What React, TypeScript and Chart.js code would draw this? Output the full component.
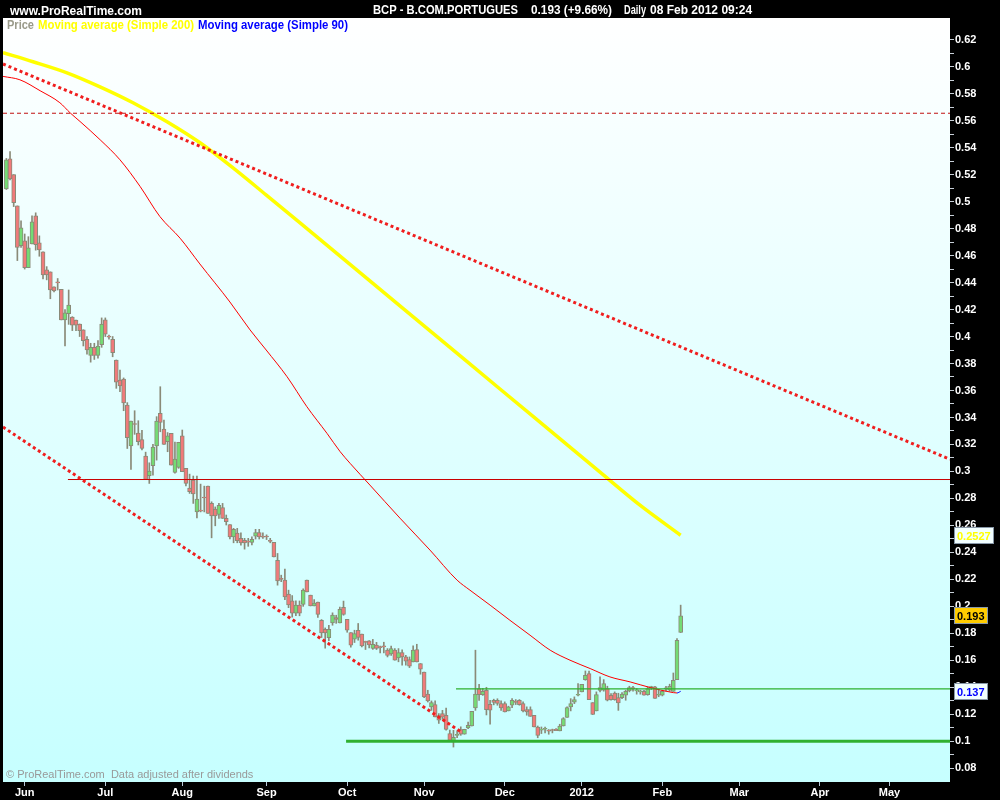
import React, { useEffect, useRef } from 'react';
import { Chart, registerables } from 'chart.js';

Chart.register(...registerables);

const FONT = '"Liberation Sans", Arial, sans-serif';

// ---- candles (trading-day index starts at -5 = 25 May 2011; 0 = 1 Jun 2011) ----
const firstBarIndex = -5;
const opens = [
  0.5095, 0.5317, 0.5200, 0.4968, 0.4674, 0.4710, 0.4510, 0.4687, 0.4894, 0.4694,
  0.4627, 0.4494, 0.4479, 0.4368, 0.4402, 0.4350, 0.4123, 0.4170, 0.4145, 0.4122,
  0.4093, 0.4050, 0.3980, 0.3860, 0.3920, 0.3860, 0.3940, 0.4123, 0.4000, 0.3980,
  0.3826, 0.3678, 0.3685, 0.3492, 0.3190, 0.3352, 0.3285, 0.3237, 0.3114, 0.2968,
  0.3042, 0.3190, 0.3430, 0.3314, 0.3220, 0.3282, 0.2993, 0.3030, 0.3263, 0.3023,
  0.2877, 0.2936, 0.2700, 0.2710, 0.2808, 0.2891, 0.2763, 0.2721, 0.2682, 0.2733,
  0.2652, 0.2607, 0.2515, 0.2543, 0.2504, 0.2490, 0.2480, 0.2474, 0.2521, 0.2546,
  0.2518, 0.2517, 0.2485, 0.2474, 0.2342, 0.2206, 0.2194, 0.2090, 0.2040, 0.1950,
  0.2010, 0.2014, 0.2194, 0.2083, 0.2003, 0.2031, 0.1897, 0.1830, 0.1767, 0.1878,
  0.1917, 0.1877, 0.1992, 0.1903, 0.1806, 0.1757, 0.1823, 0.1794, 0.1737, 0.1744,
  0.1688, 0.1712, 0.1698, 0.1705, 0.1675, 0.1648, 0.1675, 0.1618, 0.1658, 0.1625,
  0.1606, 0.1588, 0.1680, 0.1576, 0.1512, 0.1349, 0.1254, 0.1272, 0.1190, 0.1205,
  0.1193, 0.1057, 0.0996, 0.1044, 0.1087, 0.1052, 0.1099, 0.1113, 0.1247, 0.1391,
  0.1346, 0.1378, 0.1274, 0.1304, 0.1304, 0.1280, 0.1280, 0.1225, 0.1267, 0.1291,
  0.1304, 0.1280, 0.1235, 0.1235, 0.1193, 0.1106, 0.1083, 0.1089, 0.1077, 0.1082,
  0.1089, 0.1077, 0.1113, 0.1176, 0.1255, 0.1289, 0.1341, 0.1366, 0.1457, 0.1502,
  0.1286, 0.1225, 0.1376, 0.1378, 0.1391, 0.1341, 0.1358, 0.1324, 0.1324, 0.1341,
  0.1373, 0.1393, 0.1373, 0.1366, 0.1370, 0.1346, 0.1398, 0.1403, 0.1341, 0.1341,
  0.1389, 0.1378, 0.1370, 0.1457, 0.1806,
];
const highs = [
  0.5320, 0.5370, 0.5200, 0.4968, 0.4857, 0.4760, 0.4740, 0.4894, 0.4917, 0.4746,
  0.4627, 0.4518, 0.4479, 0.4368, 0.4430, 0.4350, 0.4200, 0.4345, 0.4147, 0.4122,
  0.4093, 0.4050, 0.4000, 0.3950, 0.3950, 0.3970, 0.4138, 0.4138, 0.4010, 0.4000,
  0.3826, 0.3752, 0.3693, 0.3510, 0.3374, 0.3450, 0.3376, 0.3304, 0.3143, 0.3064,
  0.3200, 0.3406, 0.3628, 0.3381, 0.3288, 0.3282, 0.3218, 0.3216, 0.3307, 0.3023,
  0.2980, 0.2966, 0.2966, 0.2906, 0.2891, 0.2891, 0.2775, 0.2737, 0.2763, 0.2763,
  0.2677, 0.2607, 0.2578, 0.2578, 0.2545, 0.2504, 0.2504, 0.2515, 0.2571, 0.2571,
  0.2544, 0.2530, 0.2504, 0.2474, 0.2392, 0.2231, 0.2276, 0.2120, 0.2080, 0.2040,
  0.2040, 0.2130, 0.2194, 0.2083, 0.2050, 0.2031, 0.1902, 0.1840, 0.1860, 0.1952,
  0.1934, 0.1995, 0.2039, 0.1903, 0.1806, 0.1823, 0.1873, 0.1794, 0.1742, 0.1746,
  0.1755, 0.1733, 0.1705, 0.1734, 0.1687, 0.1705, 0.1687, 0.1687, 0.1678, 0.1637,
  0.1625, 0.1707, 0.1719, 0.1576, 0.1512, 0.1378, 0.1299, 0.1299, 0.1205, 0.1229,
  0.1245, 0.1083, 0.1081, 0.1078, 0.1107, 0.1089, 0.1143, 0.1222, 0.1675, 0.1422,
  0.1392, 0.1400, 0.1303, 0.1312, 0.1315, 0.1299, 0.1292, 0.1260, 0.1316, 0.1309,
  0.1309, 0.1292, 0.1255, 0.1255, 0.1193, 0.1113, 0.1106, 0.1106, 0.1087, 0.1090,
  0.1094, 0.1126, 0.1175, 0.1255, 0.1316, 0.1329, 0.1428, 0.1422, 0.1521, 0.1521,
  0.1286, 0.1366, 0.1477, 0.1457, 0.1408, 0.1353, 0.1366, 0.1356, 0.1361, 0.1378,
  0.1408, 0.1408, 0.1391, 0.1378, 0.1378, 0.1403, 0.1408, 0.1408, 0.1383, 0.1378,
  0.1408, 0.1423, 0.1506, 0.1761, 0.2009,
];
const lows = [
  0.5090, 0.5160, 0.4963, 0.4563, 0.4660, 0.4500, 0.4510, 0.4687, 0.4640, 0.4595,
  0.4427, 0.4420, 0.4280, 0.4330, 0.4345, 0.4123, 0.3930, 0.4090, 0.4044, 0.4044,
  0.4000, 0.3930, 0.3870, 0.3810, 0.3830, 0.3840, 0.3920, 0.4000, 0.3980, 0.3850,
  0.3616, 0.3591, 0.3450, 0.3170, 0.3015, 0.3275, 0.3196, 0.3160, 0.2940, 0.2911,
  0.2973, 0.3084, 0.3294, 0.3200, 0.3146, 0.3047, 0.2988, 0.3023, 0.2998, 0.2893,
  0.2837, 0.2763, 0.2656, 0.2700, 0.2700, 0.2689, 0.2508, 0.2597, 0.2652, 0.2652,
  0.2603, 0.2500, 0.2471, 0.2471, 0.2454, 0.2424, 0.2445, 0.2455, 0.2499, 0.2499,
  0.2504, 0.2495, 0.2471, 0.2367, 0.2157, 0.2183, 0.2050, 0.1990, 0.1920, 0.1930,
  0.1930, 0.2000, 0.2107, 0.2003, 0.2003, 0.1917, 0.1769, 0.1690, 0.1746, 0.1860,
  0.1874, 0.1877, 0.1934, 0.1808, 0.1698, 0.1732, 0.1749, 0.1700, 0.1680, 0.1691,
  0.1681, 0.1680, 0.1655, 0.1655, 0.1625, 0.1636, 0.1601, 0.1589, 0.1564, 0.1564,
  0.1546, 0.1588, 0.1588, 0.1497, 0.1324, 0.1291, 0.1229, 0.1180, 0.1132, 0.1163,
  0.1083, 0.1000, 0.0957, 0.1026, 0.1044, 0.1052, 0.1094, 0.1113, 0.1229, 0.1303,
  0.1340, 0.1195, 0.1126, 0.1270, 0.1267, 0.1229, 0.1217, 0.1225, 0.1249, 0.1272,
  0.1267, 0.1218, 0.1193, 0.1185, 0.1106, 0.1026, 0.1057, 0.1062, 0.1052, 0.1062,
  0.1079, 0.1077, 0.1113, 0.1176, 0.1225, 0.1279, 0.1336, 0.1366, 0.1452, 0.1309,
  0.1198, 0.1225, 0.1366, 0.1371, 0.1299, 0.1304, 0.1304, 0.1229, 0.1316, 0.1304,
  0.1366, 0.1371, 0.1349, 0.1349, 0.1341, 0.1341, 0.1383, 0.1317, 0.1330, 0.1336,
  0.1371, 0.1371, 0.1370, 0.1457, 0.1806,
];
const closes = [
  0.5310, 0.5169, 0.4993, 0.4660, 0.4806, 0.4510, 0.4657, 0.4850, 0.4680, 0.4642,
  0.4457, 0.4457, 0.4345, 0.4338, 0.4398, 0.4123, 0.4175, 0.4234, 0.4085, 0.4085,
  0.4044, 0.3970, 0.3900, 0.3920, 0.3860, 0.3930, 0.4093, 0.4018, 0.3996, 0.3880,
  0.3661, 0.3633, 0.3507, 0.3250, 0.3374, 0.3348, 0.3220, 0.3171, 0.2940, 0.3003,
  0.3181, 0.3374, 0.3364, 0.3200, 0.3263, 0.3047, 0.3092, 0.3216, 0.2998, 0.2911,
  0.2850, 0.2833, 0.2795, 0.2706, 0.2803, 0.2689, 0.2671, 0.2671, 0.2748, 0.2652,
  0.2627, 0.2515, 0.2570, 0.2486, 0.2471, 0.2471, 0.2476, 0.2497, 0.2546, 0.2515,
  0.2512, 0.2514, 0.2482, 0.2367, 0.2189, 0.2200, 0.2070, 0.2010, 0.1950, 0.2010,
  0.1950, 0.2120, 0.2107, 0.2003, 0.2025, 0.1940, 0.1803, 0.1803, 0.1829, 0.1935,
  0.1903, 0.1977, 0.1940, 0.1823, 0.1712, 0.1799, 0.1769, 0.1707, 0.1733, 0.1714,
  0.1718, 0.1688, 0.1694, 0.1700, 0.1636, 0.1687, 0.1601, 0.1658, 0.1625, 0.1593,
  0.1556, 0.1676, 0.1588, 0.1534, 0.1329, 0.1299, 0.1286, 0.1180, 0.1156, 0.1178,
  0.1088, 0.1007, 0.1029, 0.1048, 0.1052, 0.1089, 0.1118, 0.1222, 0.1349, 0.1346,
  0.1370, 0.1235, 0.1230, 0.1287, 0.1280, 0.1247, 0.1217, 0.1255, 0.1304, 0.1288,
  0.1272, 0.1225, 0.1217, 0.1185, 0.1106, 0.1044, 0.1086, 0.1091, 0.1075, 0.1080,
  0.1079, 0.1113, 0.1168, 0.1250, 0.1280, 0.1309, 0.1346, 0.1422, 0.1489, 0.1309,
  0.1198, 0.1346, 0.1398, 0.1428, 0.1304, 0.1309, 0.1309, 0.1284, 0.1349, 0.1370,
  0.1398, 0.1390, 0.1376, 0.1368, 0.1341, 0.1391, 0.1401, 0.1317, 0.1346, 0.1370,
  0.1393, 0.1408, 0.1452, 0.1749, 0.1930,
];

// ---- moving average 200 (yellow) ----
const ma200Idx = [-5.92, 2.27, 11.54, 20.55, 29.56, 38.84, 47.84, 56.85, 65.86, 75.14, 102.4, 129.7, 157, 167.9, 179];
const ma200Val = [0.6104, 0.6037, 0.5955, 0.5851, 0.5733, 0.5592, 0.5436, 0.525, 0.505, 0.4842, 0.4227, 0.3611, 0.2995, 0.275, 0.2527];

// ---- moving average 90 (red, blue at the end) ----
const ma90Idx = [-5.9, -1.3, 4.2, 9.6, 12.4, 15.1, 20.6, 26, 31.5, 36.9, 42.4, 47.8, 56, 61.5, 65.9, 71.6, 77, 82.5, 86.1, 88.8, 94.2, 102.4, 110.6, 118, 121.5, 127, 132.4, 137.9, 143.4, 148.8, 154.3, 159.7, 165.2, 170.7, 176.1, 178, 179];
const ma90Val = [0.5928, 0.5903, 0.5822, 0.5733, 0.5658, 0.5594, 0.5458, 0.531, 0.5112, 0.4889, 0.4729, 0.4538, 0.4256, 0.4049, 0.39, 0.3702, 0.348, 0.3282, 0.3146, 0.306, 0.2899, 0.2654, 0.2417, 0.2194, 0.212, 0.2009, 0.1897, 0.1786, 0.1675, 0.1601, 0.1539, 0.1477, 0.144, 0.1398, 0.1365, 0.1358, 0.137];

// ---- drawn trend lines and levels ----
const upperTrendIdx = [-5.92, 252.5];
const upperTrendVal = [0.602, 0.309];
const lowerTrendIdx = [-5.92, 119.1];
const lowerTrendVal = [0.3329, 0.1069];
const dashedLevelIdx = [-5.92, 252.5];
const dashedLevelVal = [0.5655, 0.5655];
const redLevelIdx = [11.8, 252.5];
const redLevelVal = [0.294, 0.294];
const thinGreenIdx = [117.7, 252.5];
const thinGreenVal = [0.1389, 0.1389];
const thickGreenIdx = [87.7, 252.5];
const thickGreenVal = [0.1, 0.1];

// ---- axes ----
const monthTickIndex = [0, 22, 43, 66, 88, 109, 131, 152, 174, 195, 217, 236];
const monthTickLabels = ['Jun', 'Jul', 'Aug', 'Sep', 'Oct', 'Nov', 'Dec', '2012', 'Feb', 'Mar', 'Apr', 'May'];
const priceTickValues = [
  0.08, 0.09, 0.10, 0.11, 0.12, 0.13, 0.14, 0.15, 0.16, 0.17, 0.18, 0.19, 0.20, 0.21, 0.22, 0.23, 0.24, 0.25,
  0.26, 0.27, 0.28, 0.29, 0.30, 0.31, 0.32, 0.33, 0.34, 0.35, 0.36, 0.37, 0.38, 0.39, 0.40, 0.41, 0.42, 0.43,
  0.44, 0.45, 0.46, 0.47, 0.48, 0.49, 0.50, 0.51, 0.52, 0.53, 0.54, 0.55, 0.56, 0.57, 0.58, 0.59, 0.60, 0.61, 0.62,
];
const priceTickLabels = [
  '0.08', '', '0.1', '', '0.12', '', '0.14', '', '0.16', '', '0.18', '', '0.2', '', '0.22', '', '0.24', '',
  '0.26', '', '0.28', '', '0.3', '', '0.32', '', '0.34', '', '0.36', '', '0.38', '', '0.4', '', '0.42', '',
  '0.44', '', '0.46', '', '0.48', '', '0.5', '', '0.52', '', '0.54', '', '0.56', '', '0.58', '', '0.6', '', '0.62',
];

const xMin = -5.92;
const xMax = 252.5;
const yMin = 0.0698;
const yMax = 0.6361;

const toPoints = (xs: number[], ys: number[]) => xs.map((x, k) => ({ x, y: ys[k] }));

export default function App() {
  const ref = useRef<HTMLCanvasElement>(null);

  useEffect(() => {
    const canvas = ref.current;
    if (!canvas) return;

    const barX = opens.map((_, k) => firstBarIndex + k);
    const up = '#74dc74';
    const down = '#f07a7a';
    const flat = '#9a9a8a';
    const edge = '#8a8a78';
    const bodyColors = opens.map((o, k) => (closes[k] > o ? up : closes[k] < o ? down : flat));
    const lastMa90 = ma90Idx.length - 1;

    const box = (ctx: CanvasRenderingContext2D, y: number, text: string, bg: string, fg: string) => {
      ctx.font = `bold 11px ${FONT}`;
      const w = Math.ceil(ctx.measureText(text).width) + 5;
      const top = Math.round(y - 8.5) + 0.5;
      ctx.fillStyle = bg;
      ctx.fillRect(954.5, top, w, 16);
      ctx.strokeStyle = '#8898a8';
      ctx.lineWidth = 1;
      ctx.strokeRect(954.5, top, w, 16);
      ctx.fillStyle = fg;
      ctx.textBaseline = 'alphabetic';
      ctx.fillText(text, 957, top + 12);
    };

    const decor = {
      id: 'decor',
      beforeDraw(chart: any) {
        const { ctx, chartArea: a } = chart;
        ctx.save();
        ctx.fillStyle = '#000';
        ctx.fillRect(0, 0, chart.width, chart.height);
        const g = ctx.createLinearGradient(0, a.top, 0, a.bottom);
        g.addColorStop(0, '#ffffff');
        g.addColorStop(1, '#c6ffff');
        ctx.fillStyle = g;
        ctx.fillRect(a.left, a.top, a.right - a.left, a.bottom - a.top);
        ctx.fillStyle = '#999999';
        ctx.font = `11px ${FONT}`;
        ctx.textBaseline = 'alphabetic';
        ctx.fillText('\u00A9 ProRealTime.com  Data adjusted after dividends', a.left + 3, a.bottom - 4);
        ctx.restore();
      },
      afterDraw(chart: any) {
        const { ctx } = chart;
        const yScale = chart.scales.y;
        ctx.save();
        ctx.textBaseline = 'alphabetic';
        ctx.fillStyle = '#ffffff';
        ctx.font = `bold 12px ${FONT}`;
        ctx.fillText('www.ProRealTime.com', 10, 15, 134);
        ctx.fillText('BCP - B.COM.PORTUGUES', 373, 14, 145);
        ctx.fillText(`${closes[closes.length - 1].toFixed(3)} (+9.66%)`, 531, 14, 81);
        ctx.fillText('Daily', 624, 14, 22);
        ctx.fillText('08 Feb 2012 09:24', 650, 14, 108);

        ctx.font = `bold 12px ${FONT}`;
        ctx.fillStyle = '#9a9a8a';
        ctx.fillText('Price', 7, 29, 27);
        ctx.fillStyle = '#ffff00';
        ctx.fillText('Moving average (Simple 200)', 38, 29, 156);
        ctx.fillStyle = '#0000ff';
        ctx.fillText('Moving average (Simple 90)', 198, 29, 150);

        const lastMa200 = ma200Val[ma200Val.length - 1];
        const lastClose = closes[closes.length - 1];
        const lastMa = ma90Val[ma90Val.length - 1];
        box(ctx, yScale.getPixelForValue(lastMa200), lastMa200.toFixed(4), '#f2ffff', '#ffff00');
        box(ctx, yScale.getPixelForValue(lastClose), lastClose.toFixed(3), '#ffcc00', '#000000');
        box(ctx, yScale.getPixelForValue(lastMa), lastMa.toFixed(3), '#f2ffff', '#0000ff');
        ctx.restore();
      },
    };

    const tickFont = { family: FONT, size: 11, weight: 'bold' as const };

    const chart = new Chart(canvas, {
      type: 'bar',
      data: {
        datasets: [
          {
            type: 'line',
            label: 'upper trend',
            data: toPoints(upperTrendIdx, upperTrendVal),
            borderColor: '#f01e1e',
            borderWidth: 3,
            borderDash: [3, 3],
            pointRadius: 0,
            order: 1,
            clip: 0,
          },
          {
            type: 'line',
            label: 'lower trend',
            data: toPoints(lowerTrendIdx, lowerTrendVal),
            borderColor: '#f01e1e',
            borderWidth: 3,
            borderDash: [3, 3],
            pointRadius: 0,
            order: 1,
            clip: 0,
          },
          {
            type: 'line',
            label: 'dashed level',
            data: toPoints(dashedLevelIdx, dashedLevelVal),
            borderColor: '#c01010',
            borderWidth: 1,
            borderDash: [4, 3],
            pointRadius: 0,
            order: 2,
            clip: 0,
          },
          {
            type: 'line',
            label: 'red level',
            data: toPoints(redLevelIdx, redLevelVal),
            borderColor: '#c80000',
            borderWidth: 1,
            pointRadius: 0,
            order: 2,
            clip: 0,
          },
          {
            type: 'line',
            label: 'thin green',
            data: toPoints(thinGreenIdx, thinGreenVal),
            borderColor: '#2eb02e',
            borderWidth: 1.2,
            pointRadius: 0,
            order: 2,
            clip: 0,
          },
          {
            type: 'line',
            label: 'thick green',
            data: toPoints(thickGreenIdx, thickGreenVal),
            borderColor: '#30b030',
            borderWidth: 3,
            pointRadius: 0,
            order: 2,
            clip: 0,
          },
          {
            type: 'line',
            label: 'Moving average (Simple 90)',
            data: toPoints(ma90Idx, ma90Val),
            borderColor: '#ff0000',
            borderWidth: 1,
            pointRadius: 0,
            cubicInterpolationMode: 'monotone',
            segment: {
              borderColor: (c: any) => (c.p1DataIndex === lastMa90 ? '#0000ff' : '#ff0000'),
            },
            order: 3,
            clip: 0,
          },
          {
            type: 'line',
            label: 'Moving average (Simple 200)',
            data: toPoints(ma200Idx, ma200Val),
            borderColor: '#ffff00',
            borderWidth: 3.5,
            pointRadius: 0,
            cubicInterpolationMode: 'monotone',
            order: 4,
            clip: 0,
          },
          {
            type: 'bar',
            label: 'bodies',
            data: barX.map((x, k) => ({ x, y: [opens[k], closes[k]] })) as any,
            backgroundColor: bodyColors,
            borderColor: edge,
            borderWidth: 1,
            borderSkipped: false,
            barThickness: 4,
            grouped: false,
            minBarLength: 1,
            order: 9,
          },
          {
            type: 'bar',
            label: 'wicks',
            data: barX.map((x, k) => ({ x, y: [lows[k], highs[k]] })) as any,
            backgroundColor: edge,
            borderWidth: 0,
            barThickness: 1,
            grouped: false,
            minBarLength: 1,
            order: 10,
          },
        ] as any,
      },
      options: {
        animation: false,
        responsive: false,
        devicePixelRatio: 1,
        layout: { padding: { left: 3, top: 18, right: 0, bottom: 0 } },
        plugins: {
          legend: { display: false },
          tooltip: { enabled: false },
          title: { display: false },
        },
        scales: {
          x: {
            type: 'linear',
            min: xMin,
            max: xMax,
            offset: false,
            border: { display: false },
            grid: { display: true, offset: false, drawOnChartArea: false, drawTicks: true, tickLength: 4, color: '#b8c8d8' },
            afterBuildTicks: (s: any) => {
              s.ticks = monthTickIndex.map((v) => ({ value: v }));
            },
            afterFit: (s: any) => {
              s.height = 18;
            },
            ticks: {
              autoSkip: false,
              maxRotation: 0,
              minRotation: 0,
              padding: 0,
              color: '#ffffff',
              font: tickFont,
              callback: (_v: any, i: number) => monthTickLabels[i],
            },
          },
          y: {
            type: 'linear',
            position: 'right',
            min: yMin,
            max: yMax,
            border: { display: false },
            grid: { display: true, drawOnChartArea: false, drawTicks: true, tickLength: 4, color: '#c8d0d8' },
            afterBuildTicks: (s: any) => {
              s.ticks = priceTickValues.map((v) => ({ value: v }));
            },
            afterFit: (s: any) => {
              s.width = 50;
            },
            ticks: {
              autoSkip: false,
              padding: 1,
              color: '#ffffff',
              font: tickFont,
              callback: (_v: any, i: number) => priceTickLabels[i],
            },
          },
        },
      } as any,
      plugins: [decor],
    });

    return () => chart.destroy();
  }, []);

  return (
    <div style={{ position: 'fixed', left: 0, top: 0, width: 1000, height: 800, background: '#000' }}>
      <canvas ref={ref} width={1000} height={800} style={{ display: 'block', width: 1000, height: 800 }} />
    </div>
  );
}
